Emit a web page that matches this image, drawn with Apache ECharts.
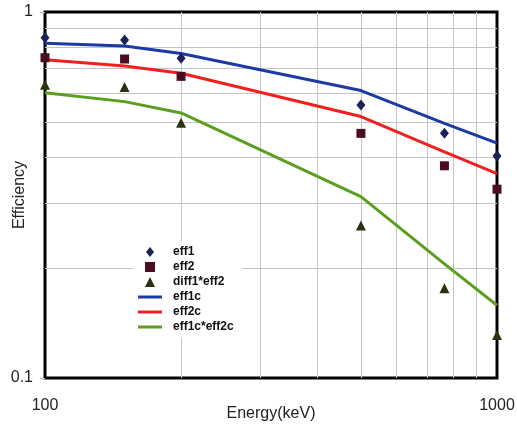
<!DOCTYPE html>
<html>
<head>
<meta charset="utf-8">
<script src="https://cdn.jsdelivr.net/npm/echarts@6/dist/echarts.min.js"></script>
<style>
  html, body { margin: 0; padding: 0; background: #fff; }
  #main { width: 517px; height: 424px; }
</style>
</head>
<body>
<div id="main"></div>
<script>
// energies (keV) of the measured / computed points
var energies = [100, 150, 200, 500, 765, 1000];

// measured points
var eff1 = [0.851, 0.839, 0.747, 0.557, 0.466, 0.404];
var eff2 = [0.750, 0.744, 0.667, 0.466, 0.380, 0.328];
var diffEff = [0.633, 0.624, 0.498, 0.261, 0.176, 0.131];

// computed curves
var eff1c = [0.822, 0.807, 0.77, 0.61, 0.496, 0.438];
var eff2c = [0.740, 0.712, 0.68, 0.518, 0.415, 0.362];
var effProd = [0.602, 0.569, 0.53, 0.313, 0.205, 0.158];

// minor grid lines of the log axes
var xMinor = [200, 300, 400, 500, 600, 700, 800, 900];
var yMinor = [0.2, 0.3, 0.4, 0.5, 0.6, 0.7, 0.8, 0.9];

function pairs(vals) {
  return energies.map(function (e, i) { return [e, vals[i]]; });
}

var myChart = echarts.init(document.getElementById('main'));

var labelFont = { fontFamily: 'Liberation Sans, Arial, sans-serif', fontSize: 16, color: '#222' };
// legend icons (paths keep their aspect)
var lineIcon = 'path://M0,0L24,0L24,3L0,3Z';
var diamondIcon = 'path://M4,0L8,5L4,10L0,5Z';
var squareIcon = 'path://M0,0L10,0L10,10L0,10Z';
var triangleIcon = 'path://M5,0L10,10L0,10Z';

myChart.setOption({
  animation: false,
  textStyle: { fontFamily: 'Liberation Sans, Arial, sans-serif' },
  grid: {
    left: 45, top: 12, right: 20, bottom: 46,
    containLabel: false,
    outerBoundsMode: 'none',
    show: true, borderColor: '#000', borderWidth: 3, backgroundColor: 'transparent'
  },
  legend: {
    orient: 'vertical',
    left: 134,
    top: 241,
    z: 20,
    padding: [4, 8, 4, 4],
    backgroundColor: '#fff',
    itemWidth: 24,
    itemHeight: 10,
    itemGap: 1,
    textStyle: { fontSize: 12, fontWeight: 'bold', color: '#111', lineHeight: 14, padding: [0, 0, 0, 6] },
    data: [
      { name: 'eff1', icon: diamondIcon },
      { name: 'eff2', icon: squareIcon },
      { name: 'diff1*eff2', icon: triangleIcon },
      { name: 'eff1c', icon: lineIcon },
      { name: 'eff2c', icon: lineIcon },
      { name: 'eff1c*eff2c', icon: lineIcon }
    ]
  },
  xAxis: {
    type: 'log',
    logBase: 10,
    min: 100,
    max: 1000,
    name: 'Energy(keV)',
    nameLocation: 'middle',
    nameGap: 28,
    nameMoveOverlap: false,
    nameTextStyle: labelFont,
    axisLine: { show: false },
    axisTick: { show: false },
    splitLine: { show: false },
    axisLabel: Object.assign({ margin: 20, formatter: function (v) { return String(v); } }, labelFont)
  },
  yAxis: {
    type: 'log',
    logBase: 10,
    min: 0.1,
    max: 1,
    name: 'Efficiency',
    nameLocation: 'middle',
    nameGap: 17,
    nameMoveOverlap: false,
    nameTextStyle: labelFont,
    axisLine: { show: false },
    axisTick: { show: true, length: 5, lineStyle: { color: '#bbb' } },
    splitLine: { show: false },
    axisLabel: Object.assign({ margin: 12, formatter: function (v) { return String(v); } }, labelFont)
  },
  series: [
    {
      type: 'line',
      data: [],
      silent: true,
      z: 1,
      markLine: {
        silent: true,
        z: 1,
        symbol: 'none',
        label: { show: false },
        lineStyle: { color: '#c4c4c4', width: 1, type: 'solid' },
        data: xMinor.map(function (v) { return { xAxis: v }; })
          .concat(yMinor.map(function (v) { return { yAxis: v }; }))
      }
    },
    {
      name: 'eff1c', type: 'line', data: pairs(eff1c), symbol: 'none', z: 3,
      lineStyle: { color: '#1c3aa3', width: 3 }, itemStyle: { color: '#1c3aa3' }
    },
    {
      name: 'eff2c', type: 'line', data: pairs(eff2c), symbol: 'none', z: 3,
      lineStyle: { color: '#f0201e', width: 3 }, itemStyle: { color: '#f0201e' }
    },
    {
      name: 'eff1c*eff2c', type: 'line', data: pairs(effProd), symbol: 'none', z: 3,
      lineStyle: { color: '#5c9e1e', width: 3 }, itemStyle: { color: '#5c9e1e' }
    },
    {
      name: 'eff1', type: 'scatter', data: pairs(eff1), symbol: 'diamond', symbolSize: [9, 11], z: 5,
      itemStyle: { color: '#1c2256', opacity: 1 }
    },
    {
      name: 'eff2', type: 'scatter', data: pairs(eff2), symbol: 'rect', symbolSize: 9, z: 5,
      itemStyle: { color: '#4a0e20', opacity: 1 }
    },
    {
      name: 'diff1*eff2', type: 'scatter', data: pairs(diffEff), symbol: 'triangle', symbolSize: 10, z: 5,
      itemStyle: { color: '#2a3212', opacity: 1 }
    }
  ]
});
</script>
</body>
</html>
